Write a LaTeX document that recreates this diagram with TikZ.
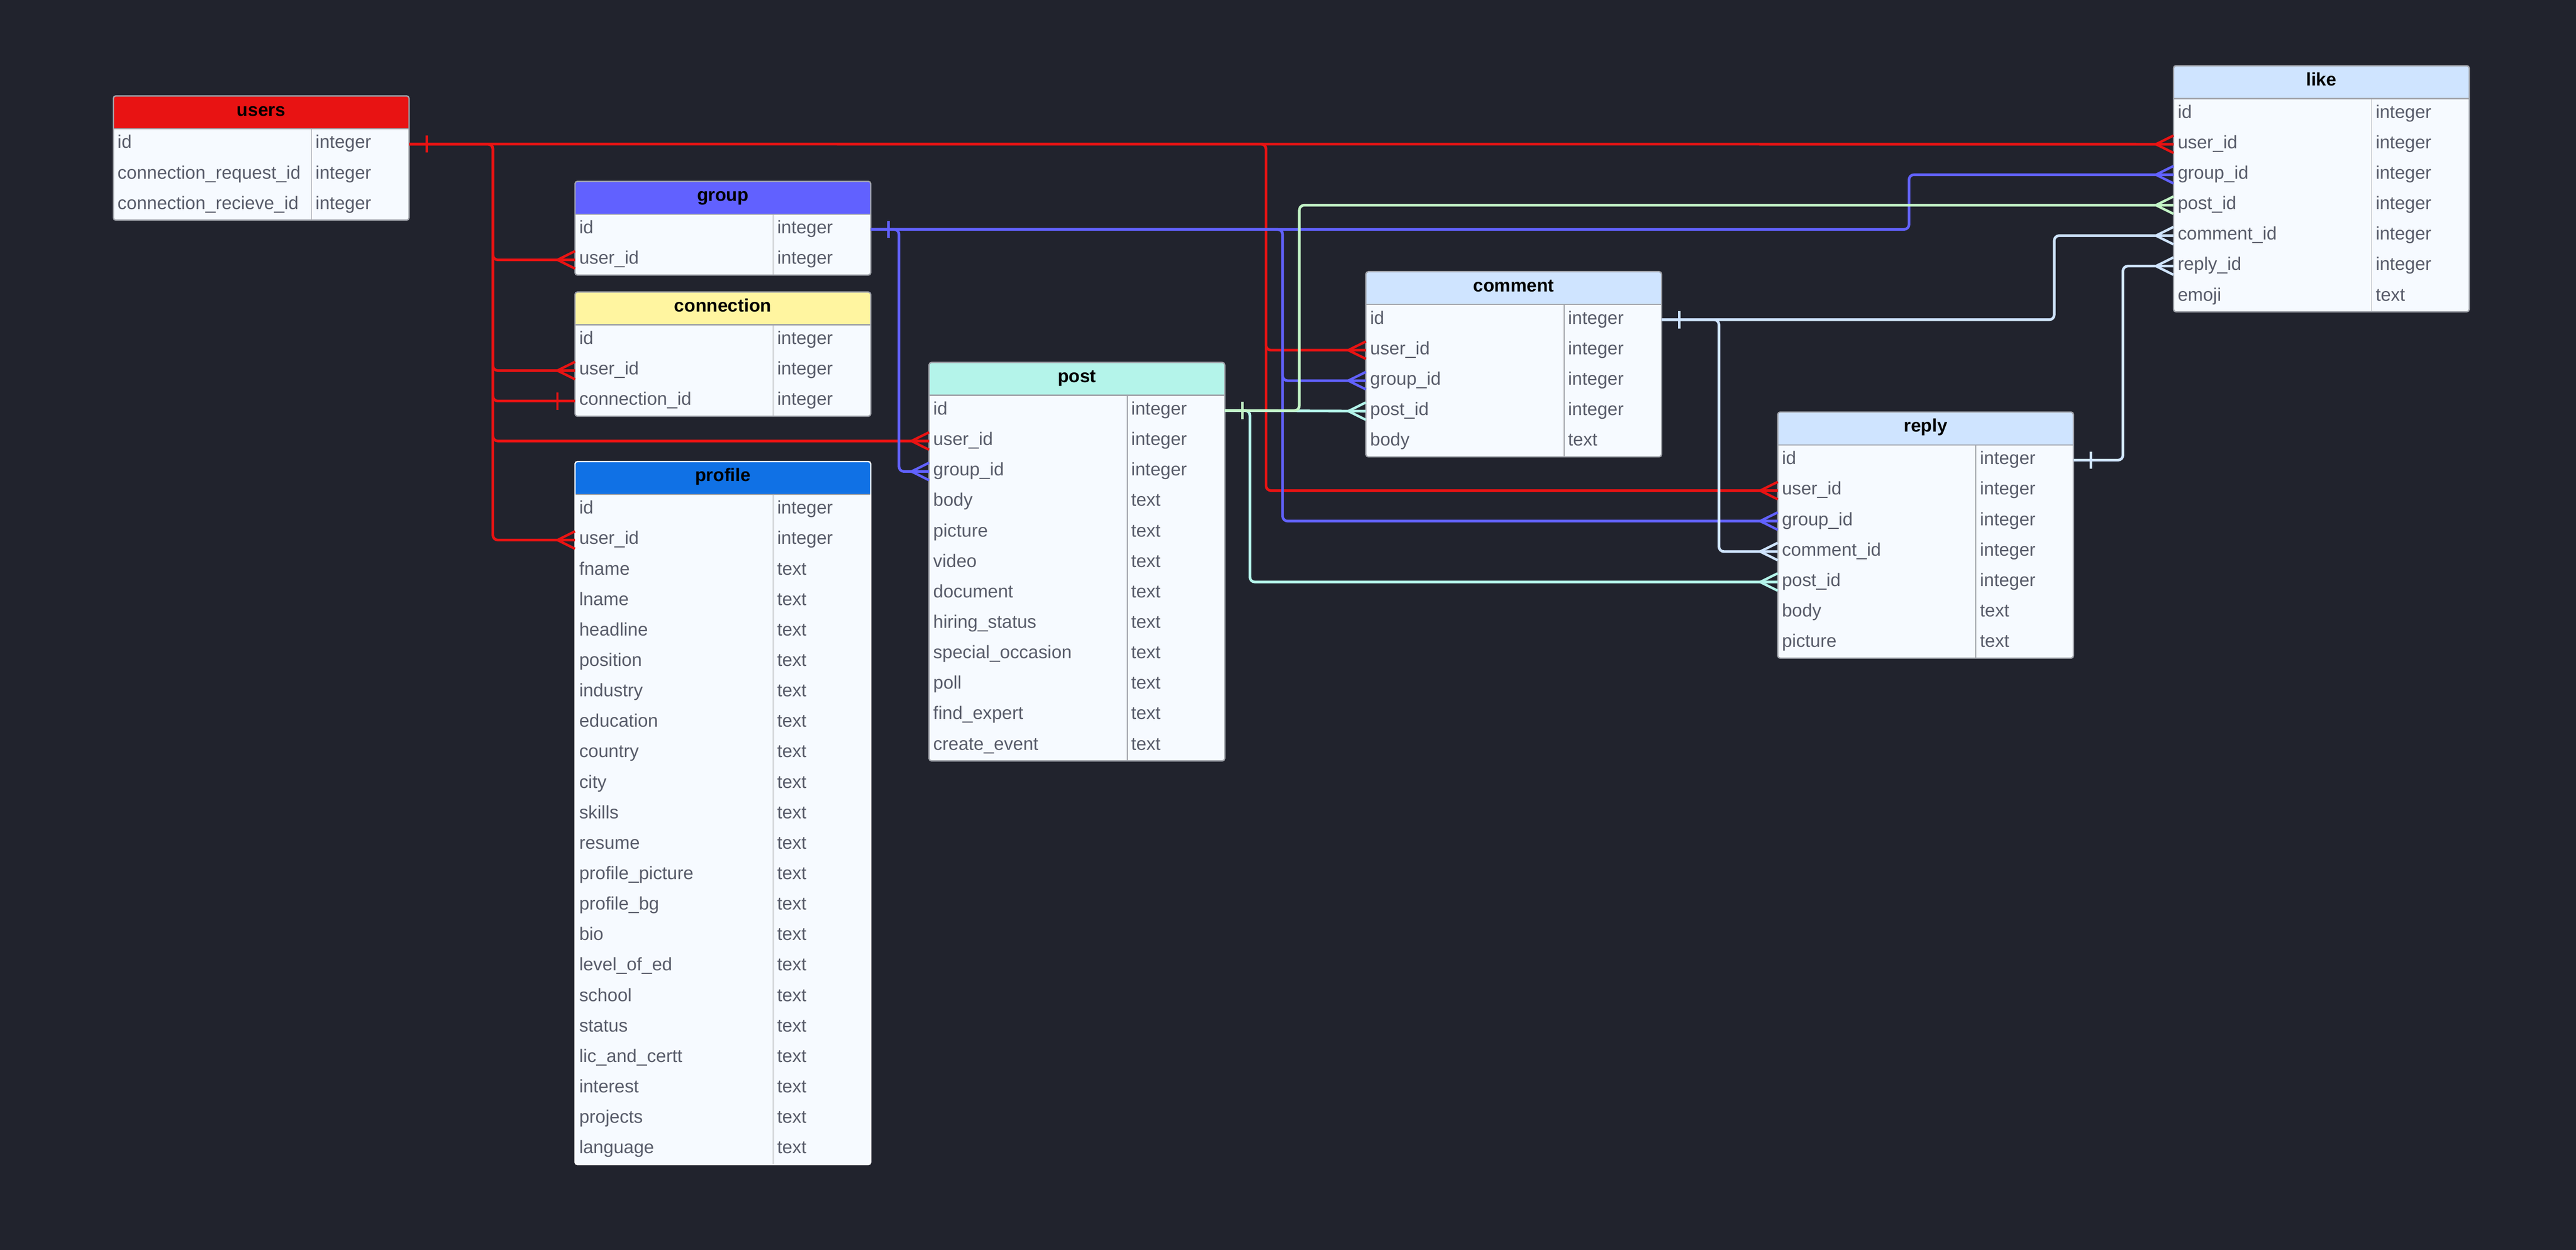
\documentclass[tikz,border=0pt]{standalone}
\usepackage{fontspec}
\setmainfont{Liberation Sans}
\definecolor{bg}{RGB}{33,35,45}
\definecolor{cred}{RGB}{232,19,19}
\definecolor{cblue}{RGB}{97,97,255}
\definecolor{cgreen}{RGB}{195,245,198}
\definecolor{cmint}{RGB}{180,244,234}
\definecolor{clblue}{RGB}{207,228,255}
\definecolor{cyellow}{RGB}{255,245,160}
\definecolor{cprofile}{RGB}{16,113,229}
\definecolor{tbody}{RGB}{246,250,255}
\definecolor{tborder}{RGB}{160,163,170}
\definecolor{ftext}{RGB}{88,92,106}
\newcommand{\hfont}{\fontsize{31.5pt}{37pt}\selectfont\bfseries}
\newcommand{\ffont}{\fontsize{31.5pt}{37pt}\selectfont}
\tikzset{
  rowbox/.style={minimum width=180mm, minimum height=18.55mm, inner sep=0pt, outer sep=0pt},
  ftxt/.style={anchor=base west, inner sep=0pt, text=ftext, font=\ffont},
  htxt/.style={anchor=base, inner sep=0pt, text=black, font=\hfont},
  conn/.style={line width=1.6mm, rounded corners=3mm},
  tipline/.style={line width=1.5mm}
}
% #1 name, #2 x, #3 y, #4 header colour, #5 title, #6 border colour, #7 rows
\newcommand{\ertable}[7]{%
  \pgfmathsetmacro{\tx}{#2}\pgfmathsetmacro{\ty}{#3}%
  \def\tname{#1}%
  \foreach \fname/\ftype [count=\i] in {#7} {\xdef\nrows{\i}}%
  \pgfmathsetmacro{\tb}{\ty+20+18.55*\nrows}%
  \fill[tbody, rounded corners=1.5mm] (\tx,\ty) rectangle (\tx+180,\tb);
  \fill[#4, rounded corners=1.5mm] (\tx,\ty) rectangle (\tx+180,\ty+20);
  \fill[#4] (\tx,\ty+5) rectangle (\tx+180,\ty+20);
  \draw[tborder, line width=0.8mm] (\tx,\ty+20) -- (\tx+180,\ty+20);
  \draw[tborder, line width=0.5mm] (\tx+120.6,\ty+20) -- (\tx+120.6,\tb);
  \draw[#6, line width=0.8mm, rounded corners=1.5mm] (\tx,\ty) rectangle (\tx+180,\tb);
  \node[htxt] (\tname-title) at (\tx+90,\ty+12.2) {#5};
  \foreach \fname/\ftype [count=\i] in {#7} {
    \pgfmathsetmacro{\yc}{\ty+20+18.55*(\i-0.5)}
    \node[rowbox] (\tname-\i) at (\tx+90,\yc) {};
    \node[ftxt] (\tname-\i-n) at (\tx+2.5,\yc+2.6) {\fname};
    \node[ftxt] (\tname-\i-t) at (\tx+123,\yc+2.6) {\ftype};
  }
}
\newcommand{\crowfoot}[2]{\draw[tipline,#2] ([xshift=-10.7mm]#1) -- ([yshift=5.3mm]#1) ([xshift=-10.7mm]#1) -- ([yshift=-5.3mm]#1);}
\newcommand{\onemark}[3]{\draw[tipline,#3] ([xshift=#2,yshift=5.3mm]#1) -- ([xshift=#2,yshift=-5.3mm]#1);}
\begin{document}
\begin{tikzpicture}[x=1mm, y=-1mm]
\fill[bg] (0,0) rectangle (1568,761.1);
\useasboundingbox (0,0) rectangle (1568,761.1);

\ertable{users}{69}{58.4}{cred}{users}{tborder}{id/integer, connection\_request\_id/integer, connection\_recieve\_id/integer}
\ertable{group}{350}{110.4}{cblue}{group}{tborder}{id/integer, user\_id/integer}
\ertable{connection}{350}{177.8}{cyellow}{connection}{tborder}{id/integer, user\_id/integer, connection\_id/integer}
\ertable{profile}{350}{281}{cprofile}{profile}{white}{id/integer, user\_id/integer, fname/text, lname/text, headline/text, position/text, industry/text, education/text, country/text, city/text, skills/text, resume/text, profile\_picture/text, profile\_bg/text, bio/text, level\_of\_ed/text, school/text, status/text, lic\_and\_certt/text, interest/text, projects/text, language/text}
\ertable{post}{565.5}{220.7}{cmint}{post}{tborder}{id/integer, user\_id/integer, group\_id/integer, body/text, picture/text, video/text, document/text, hiring\_status/text, special\_occasion/text, poll/text, find\_expert/text, create\_event/text}
\ertable{comment}{831.4}{165.4}{clblue}{comment}{tborder}{id/integer, user\_id/integer, group\_id/integer, post\_id/integer, body/text}
\ertable{like}{1323}{40}{clblue}{like}{tborder}{id/integer, user\_id/integer, group\_id/integer, post\_id/integer, comment\_id/integer, reply\_id/integer, emoji/text}
\ertable{reply}{1082.1}{250.9}{clblue}{reply}{tborder}{id/integer, user\_id/integer, group\_id/integer, comment\_id/integer, post\_id/integer, body/text, picture/text}

\coordinate (redA) at (300,0);
\coordinate (redB) at (770.6,0);
\coordinate (blueA) at (547.2,0);
\coordinate (blueB) at (780.7,0);
\coordinate (blueC) at (1162,0);
\coordinate (greenA) at (790.9,0);
\coordinate (mintA) at (760.8,0);
\coordinate (lbA) at (1250.4,0);
\coordinate (lbB) at (1046.3,0);
\coordinate (lbC) at (1292.2,0);

% users.id (red)
\draw[conn,cred] (users-1.east) -- (like-2.west);
\draw[conn,cred] (users-1.east) -- (users-1.east -| redA) |- (group-2.west);
\draw[conn,cred] (users-1.east) -- (users-1.east -| redA) |- (connection-2.west);
\draw[conn,cred] (users-1.east) -- (users-1.east -| redA) |- (connection-3.west);
\draw[conn,cred] (users-1.east) -- (users-1.east -| redA) |- (post-2.west);
\draw[conn,cred] (users-1.east) -- (users-1.east -| redA) |- (profile-2.west);
\draw[conn,cred] (users-1.east) -- (users-1.east -| redB) |- (comment-2.west);
\draw[conn,cred] (users-1.east) -- (users-1.east -| redB) |- (reply-2.west);

% group.id (blue)
\draw[conn,cblue] (group-1.east) -- (group-1.east -| blueC) |- (like-3.west);
\draw[conn,cblue] (group-1.east) -- (group-1.east -| blueA) |- (post-3.west);
\draw[conn,cblue] (group-1.east) -- (group-1.east -| blueB) |- (comment-3.west);
\draw[conn,cblue] (group-1.east) -- (group-1.east -| blueB) |- (reply-3.west);

% post.id (mint, green)
\draw[conn,cmint] (post-1.east) -- (comment-4.west);
\draw[conn,cmint] (post-1.east) -- (post-1.east -| mintA) |- (reply-5.west);
\draw[conn,cgreen] (post-1.east) -- (post-1.east -| greenA) |- (like-4.west);

% comment.id and reply.id (light blue)
\draw[conn,clblue] (comment-1.east) -- (comment-1.east -| lbA) |- (like-5.west);
\draw[conn,clblue] (comment-1.east) -- (comment-1.east -| lbB) |- (reply-4.west);
\draw[conn,clblue] (reply-1.east) -- (reply-1.east -| lbC) |- (like-6.west);

% one marks
\onemark{users-1.east}{10.7mm}{cred}
\onemark{connection-3.west}{-10.7mm}{cred}
\onemark{group-1.east}{10.7mm}{cblue}
\onemark{post-1.east}{10.7mm}{cgreen}
\onemark{comment-1.east}{10.7mm}{clblue}
\onemark{reply-1.east}{10.7mm}{clblue}

% many marks
\crowfoot{like-2.west}{cred}
\crowfoot{group-2.west}{cred}
\crowfoot{connection-2.west}{cred}
\crowfoot{post-2.west}{cred}
\crowfoot{profile-2.west}{cred}
\crowfoot{comment-2.west}{cred}
\crowfoot{reply-2.west}{cred}
\crowfoot{like-3.west}{cblue}
\crowfoot{post-3.west}{cblue}
\crowfoot{comment-3.west}{cblue}
\crowfoot{reply-3.west}{cblue}
\crowfoot{like-4.west}{cgreen}
\crowfoot{comment-4.west}{cmint}
\crowfoot{reply-5.west}{cmint}
\crowfoot{like-5.west}{clblue}
\crowfoot{reply-4.west}{clblue}
\crowfoot{like-6.west}{clblue}
\end{tikzpicture}
\end{document}
